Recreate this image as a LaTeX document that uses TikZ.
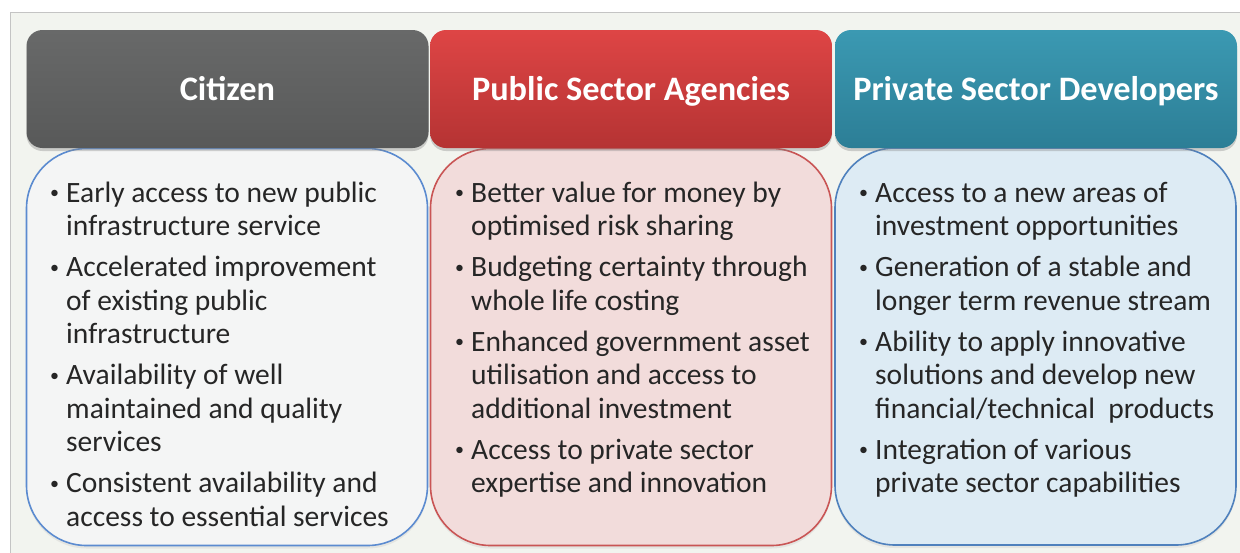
\documentclass[tikz,border=0pt]{standalone}
\usepackage{fontspec}
\setmainfont{Carlito}
\usetikzlibrary{shadows}
\definecolor{panelbg}{HTML}{F2F4EF}
\definecolor{panelline}{HTML}{C4C4C4}
\definecolor{greytop}{HTML}{686969}
\definecolor{greybot}{HTML}{585959}
\definecolor{redtop}{HTML}{DE4545}
\definecolor{redbot}{HTML}{B53333}
\definecolor{tealtop}{HTML}{3B99B2}
\definecolor{tealbot}{HTML}{2C7E96}
\definecolor{cfill}{HTML}{F4F5F5}
\definecolor{cline}{HTML}{5B8BD0}
\definecolor{pfill}{HTML}{F2DCDB}
\definecolor{pline}{HTML}{C95555}
\definecolor{vfill}{HTML}{DDEBF4}
\definecolor{vline}{HTML}{4F81BD}
\definecolor{txt}{HTML}{262626}
\newcommand{\bl}[1]{\makebox[17pt][l]{\hspace*{1pt}{\fontsize{18}{18}\selectfont\raisebox{3.5pt}{\textbullet}}}\begin{tabular}[t]{@{}l@{}}#1\end{tabular}}
\begin{document}
\begin{tikzpicture}[x=1pt,y=-1pt,
  header/.style={minimum width=402pt, minimum height=118pt, rounded corners=16pt,
    inner sep=0pt, text=white, font=\fontsize{34.3}{36}\selectfont\bfseries,
    text height=22pt, text depth=0pt,
    drop shadow={opacity=0.35, shadow xshift=0pt, shadow yshift=-3pt}},
  body/.style={minimum width=401pt, minimum height=397pt, rounded corners=60pt,
    line width=1.6pt, inner sep=0pt,
    drop shadow={opacity=0.12, shadow xshift=0pt, shadow yshift=-3pt}},
  bul/.style={anchor=base west, inner sep=0pt, text=txt,
    font=\fontsize{29.5}{33.5}\selectfont}
]
\useasboundingbox (0,0) rectangle (1240,552);
\fill[white] (0,0) rectangle (1240,552);
\fill[panelbg] (10.5,12.5) rectangle (1241,553);
\draw[panelline, line width=1pt] (10.5,553) -- (10.5,12.5) -- (1241,12.5);

% body boxes
\node[body, draw=cline, fill=cfill] (bc) at (227,347) {};
\node[body, draw=pline, fill=pfill] (bp) at (631,347) {};
\node[body, draw=vline, fill=vfill] (bv) at (1035.5,346.5) {};

% headers
\node[header, top color=greytop, bottom color=greybot] (hc) at (227.5,89) {Citizen};
\node[header, top color=redtop, bottom color=redbot] (hp) at (631,89) {Public Sector Agencies};
\node[header, top color=tealtop, bottom color=tealbot] (hv) at (1036,89) {Private Sector Developers};

% Citizen bullets
\node[bul] (c1) at (49,202) {\bl{Early access to new public\\infrastructure service}};
\node[bul] (c2) at (49,276.5) {\bl{Accelerated improvement\\of existing public\\infrastructure}};
\node[bul] (c3) at (49,384.5) {\bl{Availability of well\\maintained and quality\\services}};
\node[bul] (c4) at (49,492.5) {\bl{Consistent availability and\\access to essential services}};

% Public bullets
\node[bul] (p1) at (454,202) {\bl{Better value for money by\\optimised risk sharing}};
\node[bul] (p2) at (454,276.5) {\bl{Budgeting certainty through\\whole life costing}};
\node[bul] (p3) at (454,351) {\bl{Enhanced government asset\\utilisation and access to\\additional investment}};
\node[bul] (p4) at (454,459) {\bl{Access to private sector\\expertise and innovation}};

% Private bullets
\node[bul] (v1) at (858,202) {\bl{Access to a new areas of\\investment opportunities}};
\node[bul] (v2) at (858,276.5) {\bl{Generation of a stable and\\longer term revenue stream}};
\node[bul] (v3) at (858,351) {\bl{Ability to apply innovative\\solutions and develop new\\financial/technical\ \ products}};
\node[bul] (v4) at (858,459) {\bl{Integration of various\\private sector capabilities}};
\end{tikzpicture}
\end{document}
